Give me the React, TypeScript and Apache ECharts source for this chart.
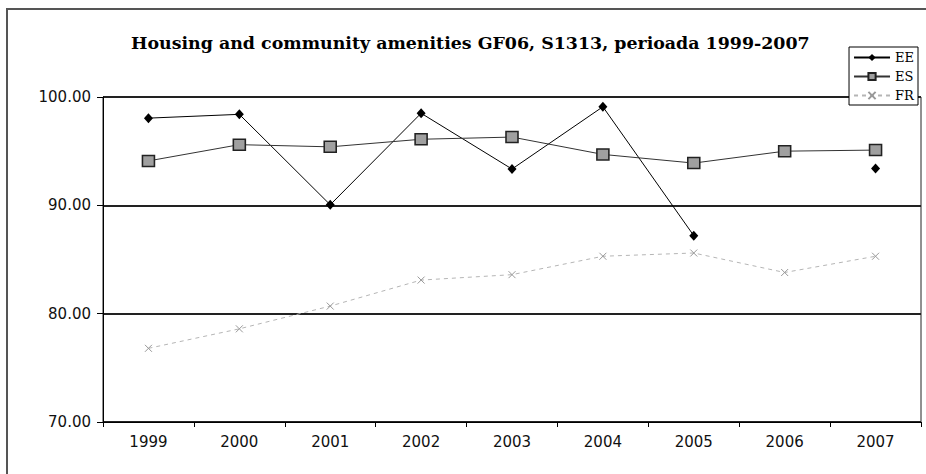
import React, { useEffect, useRef } from "react";
import * as echarts from "echarts";

const years = ["1999", "2000", "2001", "2002", "2003", "2004", "2005", "2006", "2007"];
const eeValues = [98.05, 98.4, 90.05, 98.5, 93.35, 99.1, 87.2, null, 93.4];
const esValues = [94.1, 95.6, 95.4, 96.1, 96.3, 94.7, 93.9, 95.0, 95.1];
const frValues = [76.8, 78.6, 80.7, 83.1, 83.6, 85.3, 85.6, 83.8, 85.3];
const titleText = "Housing and community amenities GF06, S1313, perioada 1999-2007";

const X_SYMBOL = "path://M0,0L10,10M10,0L0,10";

export default function App() {
  const ref = useRef<HTMLDivElement>(null);
  useEffect(() => {
    if (!ref.current) return;
    const chart = echarts.init(ref.current, null, { renderer: "svg" });
    chart.setOption({
      animation: false,
      backgroundColor: "#fff",
      title: {
        text: titleText,
        left: 126,
        top: 29,
        textStyle: {
          fontFamily: "DejaVu Serif",
          fontWeight: "bold",
          fontSize: 17.4,
          color: "#000",
        },
      },
      legend: {
        orient: "vertical",
        right: 8,
        top: 47,
        padding: [4, 4, 3, 4],
        itemGap: 6,
        itemWidth: 36,
        itemHeight: 9,
        borderColor: "#000",
        borderWidth: 1,
        backgroundColor: "#fff",
        textStyle: { fontFamily: "DejaVu Serif", fontSize: 13, color: "#000" },
        data: ["EE", "ES", "FR"],
      },
      graphic: [
        {
          type: "rect",
          shape: { x: 7, y: 9, width: 1000, height: 1000 },
          style: { fill: "none", stroke: "#555", lineWidth: 2 },
          silent: true,
        },
      ],
      grid: {
        left: 103,
        right: 5,
        top: 97,
        bottom: 52,
        show: true,
        borderColor: "#222",
        borderWidth: 1,
        backgroundColor: "transparent",
      },
      xAxis: {
        type: "category",
        data: years,
        boundaryGap: true,
        axisLine: { lineStyle: { color: "#000", width: 1 } },
        axisTick: { show: true, length: 5, lineStyle: { color: "#000" } },
        axisLabel: {
          margin: 12,
          fontFamily: "DejaVu Sans",
          fontSize: 15,
          color: "#111",
        },
        splitLine: { show: false },
      },
      yAxis: {
        type: "value",
        min: 70,
        max: 100,
        interval: 10,
        axisLine: { show: true, lineStyle: { color: "#000", width: 1 } },
        axisTick: { show: true, length: 6, lineStyle: { color: "#000" } },
        axisLabel: {
          margin: 12,
          fontFamily: "DejaVu Sans",
          fontSize: 15,
          color: "#111",
          formatter: (v: number) => v.toFixed(2),
        },
        splitLine: { show: true, lineStyle: { color: "#222", width: 2 } },
      },
      series: [
        {
          name: "EE",
          type: "line",
          data: eeValues,
          connectNulls: false,
          symbol: "diamond",
          symbolSize: [9, 10],
          lineStyle: { color: "#000", width: 1 },
          itemStyle: { color: "#000" },
        },
        {
          name: "ES",
          type: "line",
          data: esValues,
          symbol: "rect",
          symbolSize: [12, 11],
          lineStyle: { color: "#333", width: 1 },
          itemStyle: { color: "#a0a0a0", borderColor: "#222", borderWidth: 1.5 },
        },
        {
          name: "FR",
          type: "line",
          data: frValues,
          symbol: X_SYMBOL,
          symbolSize: 7,
          lineStyle: { color: "#b5b5b5", width: 1, type: [4, 4] },
          itemStyle: { color: "none", borderColor: "#999", borderWidth: 1 },
        },
      ],
    });
    return () => chart.dispose();
  }, []);
  return (
    <div
      ref={ref}
      style={{ position: "fixed", left: 0, top: 0, width: 926, height: 474 }}
    />
  );
}
